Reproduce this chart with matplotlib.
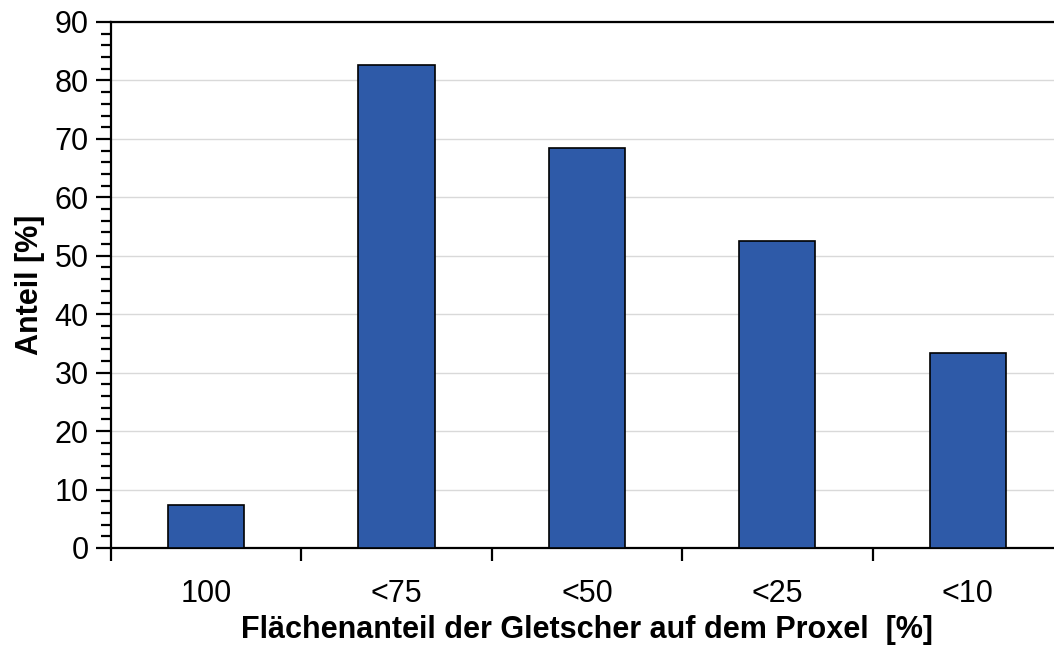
import matplotlib
matplotlib.use('Agg')
from matplotlib import pyplot as plt
from matplotlib.ticker import MultipleLocator
import numpy as np

categories = ['100', '<75', '<50', '<25', '<10']
anteil = [7.3, 82.6, 68.4, 52.5, 33.3]

plt.rcParams['font.family'] = ['Liberation Sans', 'DejaVu Sans']

fig = plt.figure(figsize=(10.54, 6.45), dpi=100)
ax = fig.add_axes([0.1053, 0.1504, 0.9032, 0.8155])

x = np.arange(len(categories))
ax.bar(x, anteil, width=0.40, color='#2E5AA8', edgecolor='black', linewidth=1.2, zorder=3)

ax.set_xlim(-0.5, len(categories) - 0.5)
ax.set_ylim(0, 90)
ax.yaxis.set_major_locator(MultipleLocator(10))
ax.yaxis.set_minor_locator(MultipleLocator(2))
ax.grid(axis='y', which='major', color='#d9d9d9', linewidth=1.0, zorder=0)

# separators between categories as major ticks, labels sit on minor ticks
ax.set_xticks(np.arange(-0.5, len(categories) + 0.5, 1.0))
ax.set_xticklabels([])
ax.set_xticks(x, minor=True)
ax.set_xticklabels(categories, minor=True)
ax.tick_params(axis='x', which='major', direction='out', length=9, width=1.6)
ax.tick_params(axis='x', which='minor', length=0, pad=22, labelsize=22)
ax.tick_params(axis='y', which='major', direction='out', length=11, width=1.6, labelsize=22, pad=5)
ax.tick_params(axis='y', which='minor', direction='out', length=7, width=1.6)

for side in ['left', 'bottom', 'top', 'right']:
    ax.spines[side].set_linewidth(1.6)

ax.set_xlabel('Flächenanteil der Gletscher auf dem Proxel  [%]', fontsize=22, fontweight='bold', labelpad=5)
ax.set_ylabel('Anteil [%]', fontsize=22, fontweight='bold', labelpad=7)

plt.savefig('out.png', dpi=100)
plt.close()
